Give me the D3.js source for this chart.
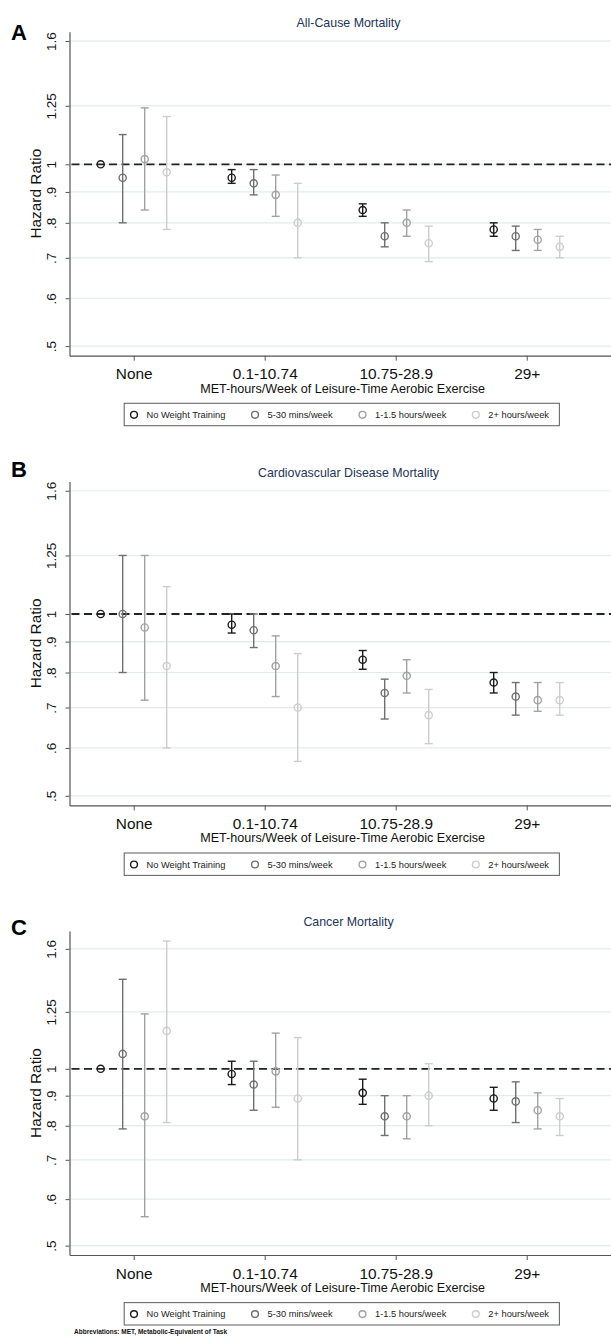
<!DOCTYPE html>
<html>
<head>
<meta charset="utf-8">
<script src="https://cdn.jsdelivr.net/npm/d3@7"></script>
<style>
  html, body { margin: 0; padding: 0; background: #fff; }
  svg { display: block; }
  text { font-family: "Liberation Sans", Arial, sans-serif; }
</style>
</head>
<body>
<svg id="chart" width="611" height="1340"></svg>
<script>
// ---------------- DATA ----------------
const categories = ["None", "0.1-10.74", "10.75-28.9", "29+"];
const seriesNames = ["No Weight Training", "5-30 mins/week", "1-1.5 hours/week", "2+ hours/week"];
const yTickValues = [0.5, 0.6, 0.7, 0.8, 0.9, 1, 1.25, 1.6];
const yTickLabels = [".5", ".6", ".7", ".8", ".9", "1", "1.25", "1.6"];
const panelTitles = ["All-Cause Mortality", "Cardiovascular Disease Mortality", "Cancer Mortality"];
const panelLetters = ["A", "B", "C"];
const xAxisTitle = "MET-hours/Week of Leisure-Time Aerobic Exercise";
const yAxisTitle = "Hazard Ratio";
const footnote = "Abbreviations: MET, Metabolic-Equivalent of Task";

// rows = series (No WT, 5-30, 1-1.5, 2+), columns = categories
const allCauseHR = [[1.00, 0.95, 0.84, 0.78], [0.95, 0.93, 0.76, 0.76], [1.02, 0.89, 0.80, 0.75], [0.97, 0.80, 0.74, 0.73]];
const allCauseLo = [[1.00, 0.93, 0.82, 0.76], [0.80, 0.89, 0.73, 0.72], [0.84, 0.82, 0.76, 0.72], [0.78, 0.70, 0.69, 0.70]];
const allCauseHi = [[1.00, 0.98, 0.86, 0.80], [1.12, 0.98, 0.80, 0.79], [1.24, 0.96, 0.84, 0.78], [1.20, 0.93, 0.79, 0.76]];

const cvdHR = [[1.00, 0.96, 0.84, 0.77], [1.00, 0.94, 0.74, 0.73], [0.95, 0.82, 0.79, 0.72], [0.82, 0.70, 0.68, 0.72]];
const cvdLo = [[1.00, 0.93, 0.81, 0.74], [0.80, 0.88, 0.67, 0.68], [0.72, 0.73, 0.74, 0.69], [0.60, 0.57, 0.61, 0.68]];
const cvdHi = [[1.00, 1.00, 0.87, 0.80], [1.25, 1.00, 0.78, 0.77], [1.25, 0.92, 0.84, 0.77], [1.11, 0.86, 0.75, 0.77]];

const cancerHR = [[1.00, 0.98, 0.91, 0.89], [1.06, 0.94, 0.83, 0.88], [0.83, 0.99, 0.83, 0.85], [1.16, 0.89, 0.90, 0.83]];
const cancerLo = [[1.00, 0.94, 0.87, 0.85], [0.79, 0.85, 0.77, 0.81], [0.56, 0.86, 0.76, 0.79], [0.81, 0.70, 0.80, 0.77]];
const cancerHi = [[1.00, 1.03, 0.96, 0.93], [1.42, 1.03, 0.90, 0.95], [1.24, 1.15, 0.90, 0.91], [1.65, 1.13, 1.02, 0.89]];

// ---------------- STYLE / LAYOUT ----------------
const seriesColors = ["#1c1c1c", "#707070", "#a2a2a2", "#cdcdcd"];
const panels = [
  { hr: allCauseHR, lo: allCauseLo, hi: allCauseHi, top: 31.7, yDomain: [0.482, 1.658], letterY: 39.5 },
  { hr: cvdHR, lo: cvdLo, hi: cvdHi, top: 481.4, yDomain: [0.482, 1.658], letterY: 477 },
  { hr: cancerHR, lo: cancerLo, hi: cancerHi, top: 931, yDomain: [0.482, 1.716], letterY: 935 }
];
const plotLeft = 69.5, plotRight = 615.8, plotH = 324;
const seriesOffset = 0.168;

const svg = d3.select("#chart");
svg.append("rect").attr("width", 611).attr("height", 1340).attr("fill", "#fff");

const x = d3.scaleLinear().domain([0.51, 4.68]).range([plotLeft, plotRight]);

panels.forEach((p, pi) => {
  const top = p.top, bottom = p.top + plotH;
  const y = d3.scaleLog().domain(p.yDomain).range([bottom, top]);
  const g = svg.append("g");

  // gridlines
  g.selectAll("line.grid").data(yTickValues).join("line")
    .attr("class", "grid")
    .attr("x1", plotLeft).attr("x2", plotRight)
    .attr("y1", d => y(d)).attr("y2", d => y(d))
    .attr("stroke", "#e2ebeb").attr("stroke-width", 1.2);

  // reference dashed line at 1
  g.append("line")
    .attr("x1", plotLeft + 2).attr("x2", plotRight)
    .attr("y1", y(1)).attr("y2", y(1))
    .attr("stroke", "#222").attr("stroke-width", 1.8)
    .attr("stroke-dasharray", "8,4.5");

  // y axis
  const yAxis = d3.axisLeft(y).tickValues(yTickValues)
    .tickFormat((d, i) => yTickLabels[i]).tickSize(4).tickSizeOuter(0);
  const ya = g.append("g").attr("transform", `translate(${plotLeft},0)`).call(yAxis);
  ya.select(".domain").attr("stroke", "#555").attr("stroke-width", 1.2);
  ya.selectAll(".tick line").attr("stroke", "#555").attr("stroke-width", 1);
  ya.selectAll(".tick text")
    .attr("transform", "rotate(-90)")
    .attr("x", 0).attr("y", -14).attr("dy", 0)
    .attr("text-anchor", "middle")
    .attr("font-size", 13.5).attr("fill", "#111")
    .attr("font-family", "'Liberation Sans', Arial, sans-serif");

  // x axis
  const xAxis = d3.axisBottom(x).tickValues([1, 2, 3, 4])
    .tickFormat(d => categories[d - 1]).tickSize(5).tickSizeOuter(0);
  const xa = g.append("g").attr("transform", `translate(0,${bottom})`).call(xAxis);
  xa.select(".domain").attr("stroke", "#555").attr("stroke-width", 1.2);
  xa.selectAll(".tick line").attr("stroke", "#555").attr("stroke-width", 1);
  xa.selectAll(".tick text")
    .attr("y", 23.6).attr("dy", 0)
    .attr("font-size", 15.4).attr("fill", "#111")
    .attr("font-family", "'Liberation Sans', Arial, sans-serif");

  // axis titles
  g.append("text")
    .attr("x", (plotLeft + plotRight) / 2).attr("y", bottom + 37)
    .attr("text-anchor", "middle").attr("font-size", 12.6).attr("fill", "#111")
    .text(xAxisTitle);
  g.append("text")
    .attr("transform", `translate(41,${(top + bottom) / 2}) rotate(-90)`)
    .attr("text-anchor", "middle").attr("font-size", 15.4).attr("fill", "#111")
    .text(yAxisTitle);

  // panel title and letter
  g.append("text")
    .attr("x", 348.5).attr("y", top - 4.6)
    .attr("text-anchor", "middle").attr("font-size", 12.4).attr("fill", "#24345a")
    .text(panelTitles[pi]);
  g.append("text")
    .attr("x", 11).attr("y", p.letterY)
    .attr("font-size", 22).attr("font-weight", "bold").attr("fill", "#000")
    .text(panelLetters[pi]);

  // error bars + markers
  seriesNames.forEach((s, j) => {
    const pts = categories.map((c, i) => ({
      cx: x(i + 1 + (j - 1.5) * seriesOffset),
      hr: p.hr[j][i], lo: p.lo[j][i], hi: p.hi[j][i]
    }));
    const col = seriesColors[j];
    const sg = g.append("g");
    const bars = pts.filter(d => d.hi > d.lo);
    sg.selectAll("line.ci").data(bars).join("line")
      .attr("x1", d => d.cx).attr("x2", d => d.cx)
      .attr("y1", d => y(d.lo)).attr("y2", d => y(d.hi))
      .attr("stroke", col).attr("stroke-width", 1.4);
    sg.selectAll("line.capHi").data(bars).join("line")
      .attr("x1", d => d.cx - 4).attr("x2", d => d.cx + 4)
      .attr("y1", d => y(d.hi)).attr("y2", d => y(d.hi))
      .attr("stroke", col).attr("stroke-width", 1.4);
    sg.selectAll("line.capLo").data(bars).join("line")
      .attr("x1", d => d.cx - 4).attr("x2", d => d.cx + 4)
      .attr("y1", d => y(d.lo)).attr("y2", d => y(d.lo))
      .attr("stroke", col).attr("stroke-width", 1.4);
    sg.selectAll("circle").data(pts).join("circle")
      .attr("cx", d => d.cx).attr("cy", d => y(d.hr)).attr("r", 3.6)
      .attr("fill", "none").attr("stroke", col).attr("stroke-width", 1.4);
  });

  // legend
  const ly = bottom + 47.6;
  const lg = g.append("g");
  lg.append("rect")
    .attr("x", 124.2).attr("y", ly).attr("width", 435.2).attr("height", 22.4)
    .attr("fill", "#fff").attr("stroke", "#6a6a6a").attr("stroke-width", 1.1);
  const legCircleX = [134, 255, 362.5, 475.8];
  seriesNames.forEach((s, j) => {
    lg.append("circle")
      .attr("cx", legCircleX[j]).attr("cy", ly + 11.5).attr("r", 3.4)
      .attr("fill", "none").attr("stroke", seriesColors[j]).attr("stroke-width", 1.4);
    lg.append("text")
      .attr("x", legCircleX[j] + 12.5).attr("y", ly + 14.7)
      .attr("font-size", 9.3).attr("fill", "#222")
      .text(s);
  });
});

svg.append("text")
  .attr("x", 74).attr("y", 1334)
  .attr("font-family", "'Liberation Serif', 'Times New Roman', serif")
  .attr("font-weight", "bold").attr("font-size", 6.5).attr("fill", "#111")
  .text(footnote);
</script>
</body>
</html>
